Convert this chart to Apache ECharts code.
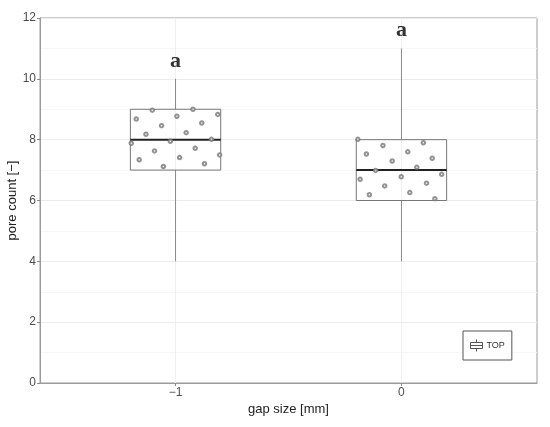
<!DOCTYPE html>
<html>
<head>
<meta charset="utf-8">
<script src="https://cdn.jsdelivr.net/npm/echarts@6/dist/echarts.min.js"></script>
<style>
  html, body { margin: 0; padding: 0; background: #fff; }
  #chart { width: 550px; height: 427px; }
</style>
</head>
<body>
<div id="chart"></div>
<script>
// gap size groups and box statistics [min, Q1, median, Q3, max]
const gapSizes = [-1, 0];
const boxStats = [
  [4, 7, 8, 9, 10],
  [4, 6, 7, 8, 11],
];
const groupLetters = ['a', 'a'];
const xTicks = [-1, 0];

// jittered observations, [gap size, pore count]
const pointsTop = [
  [-1.103, 8.97], [-0.923, 9.0], [-0.813, 8.83], [-1.174, 8.68], [-0.994, 8.77],
  [-0.884, 8.55], [-1.062, 8.46], [-0.953, 8.23], [-1.131, 8.18], [-1.196, 7.88],
  [-1.023, 7.95], [-0.841, 8.01], [-1.093, 7.63], [-0.913, 7.72], [-0.805, 7.50],
  [-1.161, 7.34], [-0.982, 7.41], [-0.872, 7.21], [-1.054, 7.12],
  [-0.193, 8.01], [-0.082, 7.81], [0.097, 7.90], [-0.155, 7.53], [0.028, 7.60],
  [0.136, 7.39], [-0.041, 7.30], [0.068, 7.09], [-0.114, 6.99], [-0.183, 6.70],
  [-0.001, 6.78], [0.178, 6.86], [-0.074, 6.48], [0.111, 6.57], [-0.142, 6.19],
  [0.037, 6.26], [0.148, 6.06],
];

const boxHalf = 0.2;

const chart = echarts.init(document.getElementById('chart'));

const renderBox = (params, api) => {
  const x = api.value(0);
  const lo = api.value(1), q1 = api.value(2), med = api.value(3), q3 = api.value(4), hi = api.value(5);
  const pL = api.coord([x - boxHalf, q3]);
  const pR = api.coord([x + boxHalf, q1]);
  const pMedL = api.coord([x - boxHalf, med]);
  const pMedR = api.coord([x + boxHalf, med]);
  const pLo = api.coord([x, lo]);
  const pHi = api.coord([x, hi]);
  const pQ1 = api.coord([x, q1]);
  const pQ3 = api.coord([x, q3]);
  const whisker = { stroke: '#8a8a8a', lineWidth: 1 };
  return {
    type: 'group',
    children: [
      { type: 'line', shape: { x1: pHi[0], y1: pHi[1], x2: pQ3[0], y2: pQ3[1] }, style: whisker },
      { type: 'line', shape: { x1: pQ1[0], y1: pQ1[1], x2: pLo[0], y2: pLo[1] }, style: whisker },
      {
        type: 'rect',
        shape: { x: pL[0], y: pL[1], width: pR[0] - pL[0], height: pR[1] - pL[1] },
        style: { fill: 'none', stroke: '#777', lineWidth: 1 },
      },
      {
        type: 'line',
        shape: { x1: pMedL[0], y1: pMedL[1], x2: pMedR[0], y2: pMedR[1] },
        style: { stroke: '#222', lineWidth: 2 },
      },
    ],
  };
};

const option = {
  animation: false,
  backgroundColor: '#fff',
  textStyle: { fontFamily: 'Liberation Sans, Arial, sans-serif' },
  grid: {
    left: 40, right: 13, top: 18, bottom: 44,
    outerBoundsMode: 'none',
    containLabel: false,
    show: true, borderColor: '#9a9a9a', borderWidth: 1, backgroundColor: 'transparent',
  },
  legend: {
    left: 463, top: 331,
    padding: [8, 7, 8, 7],
    itemWidth: 12, itemHeight: 12, itemGap: 4,
    borderColor: '#555', borderWidth: 1, backgroundColor: '#fff',
    textStyle: { fontSize: 9, color: '#333', padding: [0, 0, 0, -1] },
    data: [{
      name: 'TOP',
      icon: 'path://M6,0V3M0,3H12V9H0ZM0,6H12M6,9V12',
      itemStyle: { color: '#fff', borderColor: '#555', borderWidth: 1 },
    }],
  },
  xAxis: {
    type: 'value',
    min: -1.6, max: 0.6,
    name: 'gap size [mm]',
    nameLocation: 'middle',
    nameGap: 20,
    nameMoveOverlap: false,
    nameTextStyle: { fontSize: 13, color: '#222' },
    axisLine: { show: true, onZero: false, lineStyle: { color: '#9a9a9a' } },
    axisTick: { show: true, length: 3, customValues: xTicks, lineStyle: { color: '#888' } },
    axisLabel: {
      customValues: xTicks, fontSize: 12, color: '#4d4d4d', margin: 4,
      formatter: (v) => (v < 0 ? '\u2212' + Math.abs(v) : String(v)),
    },
    splitLine: { show: true, lineStyle: { color: '#f0f0f0', width: 1 } },
  },
  yAxis: {
    type: 'value',
    min: 0, max: 12, interval: 2,
    name: 'pore count [\u2212]',
    nameLocation: 'middle',
    nameGap: 21,
    nameMoveOverlap: false,
    nameTextStyle: { fontSize: 13, color: '#222' },
    axisLine: { show: true, onZero: false, lineStyle: { color: '#9a9a9a' } },
    axisTick: { show: true, length: 3, lineStyle: { color: '#888' } },
    axisLabel: { fontSize: 12, color: '#4d4d4d', margin: 4 },
    splitLine: { show: true, lineStyle: { color: '#ececec', width: 1 } },
    minorTick: { show: false, splitNumber: 2 },
    minorSplitLine: { show: true, lineStyle: { color: '#f6f6f6', width: 1 } },
  },
  series: [
    {
      name: 'TOP',
      type: 'custom',
      renderItem: renderBox,
      data: gapSizes.map((g, i) => [g, ...boxStats[i]]),
      z: 2,
    },
    {
      name: 'points',
      type: 'scatter',
      symbol: 'emptyCircle',
      symbolSize: 3.5,
      itemStyle: { color: '#777', borderColor: '#777', borderWidth: 0.6 },
      data: pointsTop,
      z: 3,
    },
    {
      name: 'letters',
      type: 'scatter',
      symbolSize: 0,
      data: gapSizes.map((g, i) => [g, boxStats[i][4]]),
      label: {
        show: true, position: 'top', distance: 7,
        formatter: (p) => groupLetters[p.dataIndex],
        fontFamily: 'Liberation Serif, Times New Roman, serif',
        fontWeight: 'bold', fontSize: 22, color: '#000',
      },
      z: 4,
    },
  ],
};

chart.setOption(option);
</script>
</body>
</html>
